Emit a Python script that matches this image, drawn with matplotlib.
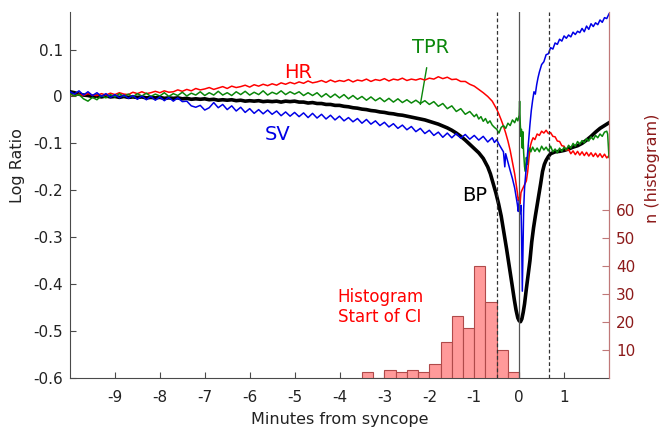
#!/usr/bin/env python3

import numpy as np
import matplotlib
matplotlib.use("Agg")
import matplotlib.pyplot as plt


plt.rcParams["font.family"] = ["DejaVu Sans"]
plt.rcParams["axes.unicode_minus"] = False


# Zeitraster (Minuten vor Synkope), 0.1 min von -10 bis -1
t_far = np.round(np.arange(-10.0, -0.95, 0.1), 2)

# HR (Log Ratio), -10 .. -1 min
hr_far = [0.005, 0.001, 0.005, 0.002, 0.006, 0.003, 0.002, 0.006, 0.003, 0.007,
          0.004, 0.008, 0.005, 0.004, 0.009, 0.006, 0.010, 0.006, 0.008, 0.011,
          0.008, 0.012, 0.009, 0.010, 0.014, 0.011, 0.015, 0.012, 0.017, 0.014,
          0.016, 0.019, 0.015, 0.018, 0.021, 0.017, 0.022, 0.019, 0.021, 0.024,
          0.020, 0.025, 0.022, 0.026, 0.023, 0.027, 0.024, 0.029, 0.026, 0.030,
          0.027, 0.031, 0.028, 0.033, 0.029, 0.031, 0.034, 0.030, 0.035, 0.031,
          0.034, 0.032, 0.036, 0.031, 0.035, 0.033, 0.037, 0.032, 0.036, 0.034,
          0.038, 0.033, 0.037, 0.035, 0.039, 0.034, 0.037, 0.035, 0.038, 0.035,
          0.039, 0.037, 0.042, 0.038, 0.041, 0.036, 0.037, 0.032, 0.032, 0.026,
          0.022]

# TPR (Log Ratio), -10 .. -1 min
tpr_far = [0.006, 0.001, 0.004, -0.005, -0.010, -0.002, -0.007, 0.002, -0.003, 0.004,
           -0.001, 0.006, 0.000, 0.005, -0.001, 0.006, 0.001, 0.007, 0.000, 0.005,
           0.001, 0.008, 0.000, 0.006, 0.002, 0.009, 0.001, 0.007, 0.003, 0.010,
           0.002, 0.008, 0.003, 0.011, 0.003, 0.008, 0.002, 0.010, 0.004, 0.011,
           0.003, 0.009, 0.004, 0.012, 0.003, 0.009, 0.005, 0.012, 0.004, 0.010,
           0.005, 0.010, 0.002, 0.008, 0.002, 0.008, -0.001, 0.006, -0.002, 0.005,
           -0.003, 0.004, -0.005, 0.002, -0.006, 0.000, -0.008, -0.001, -0.009, -0.003,
           -0.011, -0.004, -0.012, -0.005, -0.013, -0.007, -0.014, -0.008, -0.015, -0.009,
           -0.017, -0.011, -0.021, -0.015, -0.026, -0.020, -0.032, -0.026, -0.038, -0.032,
           -0.043]

# BP (Log Ratio), -10 .. -1 min
bp_far = [0.010, 0.008, 0.005, 0.003, 0.002, 0.000, 0.001, -0.001, 0.001, -0.001,
          0.000, -0.002, 0.000, -0.002, -0.001, -0.002, -0.001, -0.003, -0.002, -0.003,
          -0.002, -0.004, -0.003, -0.004, -0.003, -0.005, -0.004, -0.006, -0.005, -0.006,
          -0.005, -0.007, -0.006, -0.008, -0.007, -0.008, -0.007, -0.009, -0.008, -0.010,
          -0.009, -0.010, -0.009, -0.011, -0.010, -0.011, -0.010, -0.012, -0.010, -0.011,
          -0.010, -0.012, -0.012, -0.014, -0.013, -0.015, -0.015, -0.017, -0.017, -0.019,
          -0.019, -0.021, -0.022, -0.024, -0.025, -0.027, -0.028, -0.030, -0.031, -0.033,
          -0.034, -0.036, -0.037, -0.039, -0.040, -0.042, -0.044, -0.046, -0.048, -0.050,
          -0.053, -0.056, -0.059, -0.063, -0.067, -0.072, -0.078, -0.085, -0.093, -0.102,
          -0.111]

# SV (Log Ratio), -10 .. -1 min
sv_far = [0.010, 0.005, 0.012, 0.003, 0.010, 0.002, 0.008, 0.000, 0.006, -0.002,
          0.004, -0.003, 0.003, -0.004, 0.002, -0.006, 0.001, -0.007, 0.000, -0.008,
          -0.001, -0.009, -0.002, -0.010, -0.003, -0.011, -0.010, -0.020, -0.023, -0.019,
          -0.029, -0.024, -0.013, -0.024, -0.017, -0.028, -0.020, -0.031, -0.023, -0.034,
          -0.026, -0.036, -0.028, -0.037, -0.029, -0.038, -0.031, -0.041, -0.033, -0.042,
          -0.034, -0.043, -0.035, -0.045, -0.036, -0.046, -0.038, -0.048, -0.040, -0.050,
          -0.042, -0.052, -0.045, -0.054, -0.047, -0.057, -0.049, -0.059, -0.052, -0.062,
          -0.055, -0.065, -0.058, -0.068, -0.061, -0.071, -0.064, -0.075, -0.068, -0.079,
          -0.072, -0.083, -0.076, -0.087, -0.078, -0.088, -0.079, -0.089, -0.081, -0.091,
          -0.083]

t_hr_near = [-0.9, -0.8, -0.7, -0.6, -0.5, -0.45, -0.4, -0.35, -0.3, -0.25,
             -0.2, -0.15, -0.1, -0.07, -0.04, -0.02, 0.0, 0.02, 0.04, 0.07,
             0.1, 0.13, 0.16, 0.19, 0.22, 0.25, 0.28, 0.31, 0.35, 0.4,
             0.45, 0.5, 0.55, 0.6, 0.65, 0.7, 0.75, 0.8, 0.85, 0.9,
             0.95, 1.0, 1.05, 1.1, 1.15, 1.2, 1.25, 1.3, 1.35, 1.4,
             1.45, 1.5, 1.55, 1.6, 1.65, 1.7, 1.75, 1.8, 1.85, 1.9,
             1.95, 2.0]
hr_near = [0.015, 0.008, 0.000, -0.010, -0.027, -0.038, -0.050, -0.063, -0.078, -0.095,
           -0.115, -0.140, -0.165, -0.185, -0.205, -0.222, -0.215, -0.228, -0.205, -0.198,
           -0.192, -0.186, -0.180, -0.160, -0.130, -0.105, -0.095, -0.088, -0.092, -0.080,
           -0.083, -0.074, -0.078, -0.072, -0.079, -0.077, -0.085, -0.086, -0.095, -0.096,
           -0.105, -0.106, -0.115, -0.113, -0.122, -0.116, -0.124, -0.117, -0.125, -0.118,
           -0.126, -0.119, -0.127, -0.120, -0.128, -0.121, -0.129, -0.122, -0.130, -0.123,
           -0.131, -0.126]

t_tpr_near = [-0.95, -0.9, -0.85, -0.8, -0.75, -0.7, -0.65, -0.6, -0.55, -0.5,
              -0.45, -0.4, -0.35, -0.3, -0.25, -0.2, -0.15, -0.1, -0.06, -0.03,
              0.0, 0.01, 0.025, 0.04, 0.05, 0.07, 0.08, 0.1, 0.12, 0.14,
              0.16, 0.18, 0.2, 0.23, 0.26, 0.3, 0.35, 0.4, 0.45, 0.5,
              0.55, 0.6, 0.65, 0.7, 0.75, 0.8, 0.85, 0.9, 0.95, 1.0,
              1.05, 1.1, 1.15, 1.2, 1.25, 1.3, 1.35, 1.4, 1.45, 1.5,
              1.55, 1.6, 1.65, 1.7, 1.75, 1.8, 1.85, 1.9, 1.95, 1.97,
              2.0]
tpr_near = [-0.038, -0.048, -0.043, -0.053, -0.047, -0.057, -0.052, -0.061, -0.066, -0.070,
            -0.078, -0.066, -0.062, -0.068, -0.057, -0.062, -0.050, -0.056, -0.046, -0.052,
            -0.040, -0.010, -0.060, -0.085, -0.070, -0.110, -0.075, -0.120, -0.150, -0.160,
            -0.130, -0.145, -0.118, -0.110, -0.118, -0.108, -0.117, -0.110, -0.118, -0.106,
            -0.114, -0.108, -0.116, -0.106, -0.118, -0.112, -0.120, -0.110, -0.117, -0.108,
            -0.114, -0.104, -0.110, -0.100, -0.106, -0.096, -0.102, -0.094, -0.099, -0.090,
            -0.095, -0.086, -0.092, -0.083, -0.088, -0.080, -0.085, -0.076, -0.074, -0.080,
            -0.130]

t_bp_near = [-0.9, -0.8, -0.7, -0.64, -0.58, -0.52, -0.46, -0.4, -0.34, -0.28,
             -0.22, -0.16, -0.11, -0.07, -0.03, 0.0, 0.03, 0.06, 0.09, 0.12,
             0.16, 0.2, 0.24, 0.28, 0.32, 0.36, 0.4, 0.44, 0.48, 0.52,
             0.56, 0.6, 0.65, 0.7, 0.8, 0.9, 1.0, 1.1, 1.2, 1.3,
             1.4, 1.5, 1.6, 1.7, 1.8, 1.9, 2.0]
bp_near = [-0.120, -0.132, -0.150, -0.165, -0.185, -0.205, -0.228, -0.255, -0.290, -0.325,
           -0.362, -0.400, -0.432, -0.455, -0.472, -0.478, -0.480, -0.474, -0.460, -0.442,
           -0.410, -0.380, -0.350, -0.310, -0.280, -0.255, -0.232, -0.210, -0.185, -0.160,
           -0.145, -0.136, -0.128, -0.122, -0.118, -0.117, -0.115, -0.112, -0.108, -0.105,
           -0.100, -0.093, -0.085, -0.076, -0.068, -0.062, -0.056]

t_sv_near = [-0.9, -0.8, -0.7, -0.6, -0.55, -0.5, -0.45, -0.4, -0.35, -0.32,
             -0.3, -0.25, -0.2, -0.15, -0.1, -0.07, -0.04, -0.02, 0.0, 0.02,
             0.04, 0.055, 0.07, 0.085, 0.1, 0.12, 0.15, 0.18, 0.21, 0.24,
             0.27, 0.3, 0.33, 0.36, 0.39, 0.42, 0.45, 0.5, 0.55, 0.6,
             0.65, 0.7, 0.75, 0.8, 0.85, 0.9, 0.95, 1.0, 1.05, 1.1,
             1.15, 1.2, 1.25, 1.3, 1.35, 1.4, 1.45, 1.5, 1.55, 1.6,
             1.65, 1.7, 1.75, 1.8, 1.85, 1.9, 1.95, 2.0]
sv_near = [-0.093, -0.085, -0.097, -0.088, -0.098, -0.092, -0.102, -0.110, -0.118, -0.150,
           -0.122, -0.140, -0.158, -0.175, -0.195, -0.212, -0.230, -0.245, -0.222, -0.250,
           -0.232, -0.300, -0.415, -0.330, -0.240, -0.195, -0.160, -0.130, -0.095, -0.060,
           -0.030, -0.008, 0.010, 0.005, 0.025, 0.040, 0.052, 0.068, 0.074, 0.089,
           0.091, 0.104, 0.101, 0.114, 0.111, 0.122, 0.118, 0.129, 0.124, 0.131,
           0.127, 0.137, 0.132, 0.139, 0.136, 0.145, 0.138, 0.150, 0.143, 0.155,
           0.149, 0.157, 0.153, 0.163, 0.158, 0.168, 0.166, 0.176]

# Histogramm: Beginn des CI (Klassenbreite 0.25 min)
hist_edges = [-3.5, -3.25, -3.0, -2.75, -2.5, -2.25, -2.0, -1.75,
              -1.5, -1.25, -1.0, -0.75, -0.5, -0.25, 0.0]
hist_counts = [2, 0, 3, 2, 3, 2, 5, 13, 22, 18, 40, 27, 10, 2]

x_ticks = [-9, -8, -7, -6, -5, -4, -3, -2, -1, 0, 1]
y_ticks = [-0.6, -0.5, -0.4, -0.3, -0.2, -0.1, 0.0, 0.1]
y_ticklabels = ["-0.6", "-0.5", "-0.4", "-0.3", "-0.2", "-0.1", "0", "0.1"]
n_ticks = [10, 20, 30, 40, 50, 60]

# Markierungen: Synkope und -30 s / +40 s
t_marks_dashed = [-0.5, 0.667]
t_mark_solid = 0.0


# Farben
c_hr = "#ff0000"
c_tpr = "#0a870a"
c_sv = "#0000e6"
c_bp = "#000000"
c_axis = "#4a4a4a"
c_hist = "#8c1a1a"


fig = plt.figure(figsize=(6.59, 4.28), dpi=100)
ax = fig.add_axes([70 / 659, 1 - 378 / 428, 539 / 659, 366 / 428])
ax2 = ax.twinx()

# Kurven
ax.plot(np.concatenate([t_far, t_bp_near]), bp_far + bp_near, color=c_bp, lw=2.6, zorder=3)
ax.plot(np.concatenate([t_far, t_hr_near]), hr_far + hr_near, color=c_hr, lw=1.1, zorder=4)
ax.plot(np.concatenate([t_far, t_tpr_near]), tpr_far + tpr_near, color=c_tpr, lw=1.1, zorder=4)
ax.plot(np.concatenate([t_far, t_sv_near]), sv_far + sv_near, color=c_sv, lw=1.1, zorder=5)

ax.set_xlim(-10, 2)
ax.set_ylim(-0.6, 0.18)
ax.set_xticks(x_ticks)
ax.set_xticklabels([str(v) for v in x_ticks])
ax.set_yticks(y_ticks)
ax.set_yticklabels(y_ticklabels)
ax.tick_params(direction="in", length=4.5, width=0.8, colors=c_axis, labelcolor="#222222", labelsize=11)
ax.tick_params(axis="x", pad=9)
ax.tick_params(axis="y", pad=5)

for s in ["top", "right"]:
    ax.spines[s].set_visible(False)
for s in ["left", "bottom"]:
    ax.spines[s].set_color(c_axis)
    ax.spines[s].set_linewidth(0.8)

ax.set_xlabel("Minutes from syncope", fontsize=11.5, color="#222222")
ax.xaxis.set_label_coords(0.5, -0.092)
ax.set_ylabel("Log Ratio", fontsize=11.5, color="#222222")
ax.yaxis.set_label_coords(-0.084, 0.58)

# Beschriftungen der Kurven
ax.text(-4.93, 0.052, "HR", color=c_hr, fontsize=14, ha="center", va="center")
ax.text(-5.37, -0.080, "SV", color=c_sv, fontsize=14, ha="center", va="center")
ax.text(-1.0, -0.210, "BP", color=c_bp, fontsize=14, ha="center", va="center")
ax.annotate("TPR", xy=(-2.2, -0.017), xytext=(-1.98, 0.105), color=c_tpr, fontsize=14,
            ha="center", va="center",
            arrowprops=dict(arrowstyle="-", color=c_tpr, lw=1.0, shrinkA=6, shrinkB=0))
ax.text(-4.04, -0.449, "Histogram\nStart of CI", color=c_hr, fontsize=12,
        ha="left", va="center", linespacing=1.15)

# Histogramm auf rechter Achse
ax2.bar(hist_edges[:-1], hist_counts, width=np.diff(hist_edges), align="edge",
        color="#ff9a9a", edgecolor="#b04a4a", linewidth=0.8, zorder=2)

# senkrechte Markierungen
for t in t_marks_dashed:
    ax2.axvline(t, color="#333333", lw=0.9, ls=(0, (3, 2)), zorder=6)
ax2.axvline(t_mark_solid, color="#555555", lw=0.9, zorder=6)

ax2.set_xlim(-10, 2)
ax2.set_ylim(0, 130.5)
ax2.set_yticks(n_ticks)
ax2.set_yticklabels([str(v) for v in n_ticks])
ax2.tick_params(axis="y", direction="in", length=5, width=0.8, colors="#c07878",
                labelcolor=c_hist, labelsize=11, pad=5)
for s in ["top", "left", "bottom"]:
    ax2.spines[s].set_visible(False)
ax2.spines["right"].set_color("#c07878")
ax2.spines["right"].set_linewidth(0.9)
ax2.set_ylabel("n (histogram)", fontsize=11.5, color=c_hist)
ax2.yaxis.set_label_coords(1.067, 0.572)

fig.savefig("out.png", dpi=100)
plt.close(fig)
